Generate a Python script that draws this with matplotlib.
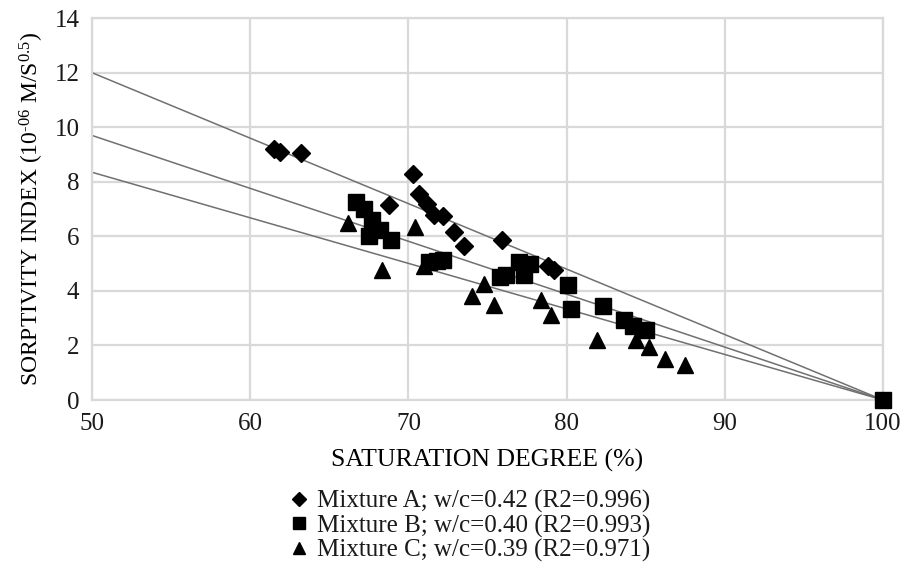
import matplotlib
matplotlib.use("Agg")
import matplotlib.pyplot as plt
import numpy as np

#### -------- データ -------- ####
# Mixture A (w/c=0.42)
sat_a = [61.5, 61.9, 63.2, 68.8, 70.3, 70.7, 71.2, 71.6, 72.2, 72.9, 73.5, 75.9, 78.8, 79.2]
sor_a = [9.2, 9.1, 9.05, 7.15, 8.3, 7.55, 7.2, 6.8, 6.75, 6.15, 5.65, 5.85, 4.9, 4.75]
# Mixture B (w/c=0.40)
sat_b = [66.7, 67.2, 67.7, 68.2, 67.5, 68.9, 71.3, 71.8, 72.2,
         75.8, 76.2, 77.0, 77.3, 77.7, 80.1, 80.3, 82.3, 83.6, 84.2, 85.0, 100.0]
sor_b = [7.25, 7.0, 6.6, 6.25, 6.0, 5.85, 5.05, 5.1, 5.15,
         4.5, 4.6, 5.05, 4.6, 5.0, 4.2, 3.35, 3.45, 2.95, 2.7, 2.55, 0.0]
# Mixture C (w/c=0.39)
sat_c = [66.2, 70.4, 68.3, 71.0, 74.8, 74.0, 75.4, 78.4, 79.0, 81.9, 84.4, 85.2, 86.2, 87.5]
sor_c = [6.5, 6.35, 4.75, 4.9, 4.25, 3.8, 3.5, 3.65, 3.1, 2.2, 2.2, 1.95, 1.5, 1.3]

# 近似直線 (S=50 と S=100 での値)
fit_x = [50, 100]
fit_a = [12.0, 0.0]
fit_b = [9.7, 0.0]
fit_c = [8.35, 0.0]

labels = [
    "Mixture A; w/c=0.42 (R2=0.996)",
    "Mixture B; w/c=0.40 (R2=0.993)",
    "Mixture C; w/c=0.39 (R2=0.971)",
]

#### -------- グラフ設定 -------- ####
plt.rcParams["font.family"] = ["Liberation Serif", "DejaVu Serif"]
plt.rcParams["mathtext.fontset"] = "custom"
plt.rcParams["mathtext.rm"] = "Liberation Serif"
plt.rcParams["mathtext.default"] = "regular"
plt.rcParams["text.color"] = "#1a1a1a"
plt.rcParams["xtick.color"] = "#1a1a1a"
plt.rcParams["ytick.color"] = "#1a1a1a"

fig = plt.figure(figsize=(9.08, 5.67), dpi=100)
ax = fig.add_axes([0.1013, 0.2945, 0.8712, 0.6735])

grid_col = "#d9d9d9"
for y in [fit_a, fit_b, fit_c]:
    ax.plot(fit_x, y, color="#707070", lw=1.1, zorder=2)

ax.plot(sat_a, sor_a, "D", color="black", ms=9, ls="none", label=labels[0], zorder=3, clip_on=False)
ax.plot(sat_b, sor_b, "s", color="black", ms=11, ls="none", label=labels[1], zorder=3, clip_on=False)
ax.plot(sat_c, sor_c, "^", color="black", ms=11, ls="none", label=labels[2], zorder=3, clip_on=False)

ax.set_xlim(50, 100)
ax.set_ylim(0, 14)
ax.set_xticks(np.arange(50, 101, 10))
ax.set_yticks(np.arange(0, 15, 2))
ax.grid(True, color=grid_col, lw=1.6)
ax.set_axisbelow(True)
for sp in ax.spines.values():
    sp.set_color(grid_col)
    sp.set_linewidth(1.6)
ax.tick_params(axis="x", length=0, pad=9, labelsize=18)
ax.tick_params(axis="y", length=0, pad=9, labelsize=18)

ax.set_xlabel("SATURATION DEGREE (%)", fontsize=18.5, labelpad=10)
ax.set_ylabel(r"SORPTIVITY INDEX (10$^{\text{-06}}$ M/S$^{0.5}$)", fontsize=17, labelpad=6)

fig.legend(
    loc="upper center",
    bbox_to_anchor=(0.518, 0.158),
    frameon=False,
    fontsize=18,
    handlelength=0.7,
    handletextpad=0.35,
    labelspacing=0.06,
    borderpad=0,
    markerscale=0.8,
)

fig.savefig("out.png", dpi=100)
